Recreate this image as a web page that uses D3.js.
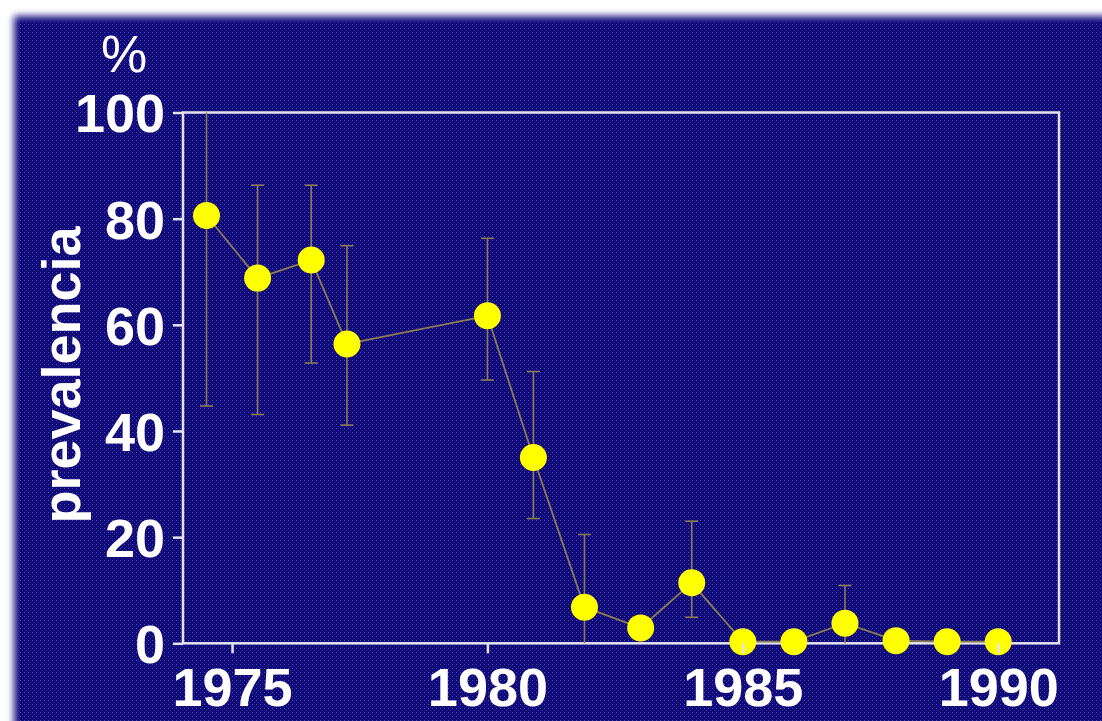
<!DOCTYPE html>
<html>
<head>
<meta charset="utf-8">
<script src="https://cdn.jsdelivr.net/npm/d3@7"></script>
<style>
  html, body { margin: 0; padding: 0; background: #ffffff; }
  svg { display: block; }
</style>
</head>
<body>
<script>
// ---- data ----
const years    = [1974.5, 1975.5, 1976.55, 1977.25, 1980, 1980.9, 1981.9, 1983, 1984, 1985, 1986, 1987, 1988, 1989, 1990];
const prevalence = [80.6, 68.8, 72.2, 56.4, 61.7, 35.0, 6.8, 2.9, 11.4, 0.3, 0.3, 3.8, 0.5, 0.3, 0.3];
const errLow   = [44.7, 43.1, 52.8, 41.1, 49.6, 23.5, 0, null, 4.9, null, null, 0, null, null, null];
const errHigh  = [100, 86.3, 86.3, 74.9, 76.3, 51.2, 20.5, null, 23.0, null, null, 10.9, null, null, null];
const xTicks   = [1975, 1980, 1985, 1990];
const yTicks   = [0, 20, 40, 60, 80, 100];
const yLabel   = "prevalencia";
const unitLabel = "%";

const W = 1102, H = 721;
const plot = { left: 183, right: 1059, top: 112.5, bottom: 643.3 };

const svg = d3.select("body").append("svg").attr("width", W).attr("height", H);
const defs = svg.append("defs");

// dotted texture
const pat = defs.append("pattern").attr("id", "tex").attr("patternUnits", "userSpaceOnUse")
  .attr("width", 4).attr("height", 4);
pat.append("rect").attr("width", 4).attr("height", 4).attr("fill", "#100a78");
pat.append("rect").attr("x", 0).attr("y", 0).attr("width", 1).attr("height", 1).attr("fill", "#4a4ab4");
pat.append("rect").attr("x", 2).attr("y", 2).attr("width", 1).attr("height", 1).attr("fill", "#2c2896");

const blur = defs.append("filter").attr("id", "edge").attr("x", "-5%").attr("y", "-5%").attr("width", "110%").attr("height", "110%");
blur.append("feGaussianBlur").attr("stdDeviation", 3.5);

const soft = defs.append("filter").attr("id", "soft");
soft.append("feGaussianBlur").attr("stdDeviation", 0.5);

// background panel with blurred top/left edge
svg.append("rect").attr("width", W).attr("height", H).attr("fill", "#ffffff");
svg.append("rect").attr("x", 14).attr("y", 16).attr("width", W + 40).attr("height", H + 40)
  .attr("fill", "#150f80").attr("filter", "url(#edge)");
svg.append("rect").attr("x", 20).attr("y", 22).attr("width", W).attr("height", H)
  .attr("fill", "url(#tex)");

const g = svg.append("g").attr("filter", "url(#soft)");

const x = d3.scaleLinear().domain([1974.04, 1991.19]).range([plot.left, plot.right]);
const y = d3.scaleLinear().domain([0, 100]).range([plot.bottom, plot.top]);

const font = "'Liberation Sans', Arial, Helvetica, sans-serif";
const axisColor = "#e4e4f0";

// plot frame
g.append("rect")
  .attr("x", x(1974.04)).attr("y", y(100))
  .attr("width", x(1991.19) - x(1974.04)).attr("height", y(0) - y(100))
  .attr("fill", "none").attr("stroke", axisColor).attr("stroke-width", 2.5);

// y axis
const yAxis = g.append("g").attr("transform", `translate(${plot.left},0)`)
  .call(d3.axisLeft(y).tickValues(yTicks).tickSize(10).tickPadding(8).tickFormat(d3.format("d")));
yAxis.select(".domain").remove();
yAxis.selectAll(".tick line").attr("stroke", axisColor).attr("stroke-width", 2.5);
yAxis.selectAll(".tick text").attr("fill", "#ffffff").attr("font-family", font)
  .attr("font-weight", "bold").attr("font-size", 54).attr("dy", "0.36em");

// connecting line
const pts = years.map((yr, i) => ({ yr, v: prevalence[i], lo: errLow[i], hi: errHigh[i] }));
const lineColor = "#8a7b55";
g.append("path").datum(pts)
  .attr("d", d3.line().x(d => x(d.yr)).y(d => y(d.v)))
  .attr("fill", "none").attr("stroke", lineColor).attr("stroke-width", 1.8);

// error bars
const eb = g.append("g").selectAll("g").data(pts.filter(d => d.lo !== null)).join("g");
eb.append("line").attr("x1", d => x(d.yr)).attr("x2", d => x(d.yr))
  .attr("y1", d => y(d.lo)).attr("y2", d => y(d.hi))
  .attr("stroke", lineColor).attr("stroke-width", 1.6);
eb.filter(d => d.hi < 100).append("line")
  .attr("x1", d => x(d.yr) - 6.5).attr("x2", d => x(d.yr) + 6.5)
  .attr("y1", d => y(d.hi)).attr("y2", d => y(d.hi))
  .attr("stroke", lineColor).attr("stroke-width", 1.6);
eb.filter(d => d.lo > 0).append("line")
  .attr("x1", d => x(d.yr) - 6.5).attr("x2", d => x(d.yr) + 6.5)
  .attr("y1", d => y(d.lo)).attr("y2", d => y(d.lo))
  .attr("stroke", lineColor).attr("stroke-width", 1.6);

// points
g.append("g").selectAll("circle").data(pts).join("circle")
  .attr("cx", d => x(d.yr)).attr("cy", d => y(d.v)).attr("r", 13.5)
  .attr("fill", "#ffff00");

// x axis (ticks on top)
const xAxis = g.append("g").attr("transform", `translate(0,${plot.bottom})`)
  .call(d3.axisBottom(x).tickValues(xTicks).tickSize(10).tickPadding(14).tickFormat(d3.format("d")));
xAxis.select(".domain").remove();
xAxis.selectAll(".tick line").attr("stroke", axisColor).attr("stroke-width", 2.5);
xAxis.selectAll(".tick text").attr("fill", "#ffffff").attr("font-family", font)
  .attr("font-weight", "bold").attr("font-size", 54).attr("dy", "0.71em");

// y label
g.append("text")
  .attr("transform", `translate(80,${375}) rotate(-90)`)
  .attr("text-anchor", "middle")
  .attr("fill", "#ffffff").attr("font-family", font)
  .attr("font-weight", "bold").attr("font-size", 54)
  .text(yLabel);

// unit label
g.append("text")
  .attr("x", 124).attr("y", 72)
  .attr("text-anchor", "middle")
  .attr("fill", "#ffffff").attr("font-family", font)
  .attr("font-weight", "normal").attr("font-size", 52)
  .text(unitLabel);
</script>
</body>
</html>
